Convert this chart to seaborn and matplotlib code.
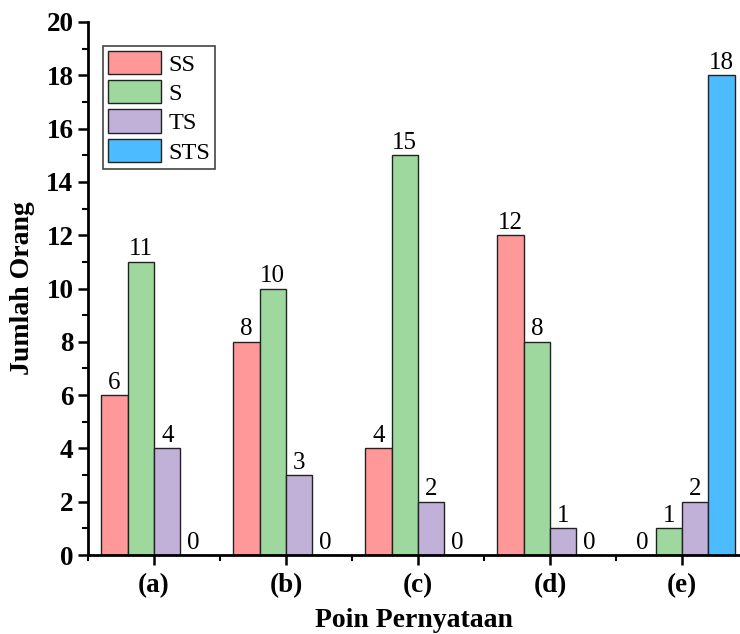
import matplotlib
matplotlib.use("Agg")
import matplotlib.pyplot as plt
import numpy as np
import pandas as pd
import seaborn as sns
from matplotlib.ticker import MultipleLocator, FixedLocator

groups = ["(a)", "(b)", "(c)", "(d)", "(e)"]
series = ["SS", "S", "TS", "STS"]
ss = [6, 8, 4, 12, 0]
s = [11, 10, 15, 8, 1]
ts = [4, 3, 2, 1, 2]
sts = [0, 0, 0, 0, 18]
colors = ["#FF9999", "#9ED89E", "#C1B1D8", "#4DBBFF"]

rows = []
for name, vals in zip(series, [ss, s, ts, sts]):
    for g, v in zip(groups, vals):
        rows.append({"Poin": g, "Kategori": name, "Jumlah": v})
df = pd.DataFrame(rows)

sns.set_style("ticks")
plt.rcParams["font.family"] = ["Liberation Serif", "DejaVu Serif"]
plt.rcParams["text.color"] = "black"
plt.rcParams["axes.labelcolor"] = "black"
plt.rcParams["xtick.color"] = "black"
plt.rcParams["ytick.color"] = "black"
plt.rcParams["axes.edgecolor"] = "black"

fig = plt.figure(figsize=(7.4, 6.34), dpi=100)
ax = fig.add_axes([0.119, 0.1246, 0.881, 0.8407])

sns.barplot(data=df, x="Poin", y="Jumlah", hue="Kategori", hue_order=series,
            palette=colors, width=0.8, gap=0, edgecolor="#222222", linewidth=1,
            saturation=1, ax=ax)

for cont in ax.containers:
    ax.bar_label(cont, fmt="%d", fontsize=18, padding=1, color="black")

ax.set_ylim(0, 20)
ax.set_xlim(-0.5, -0.5 + 652 / 132)
ax.yaxis.set_major_locator(MultipleLocator(2))
ax.yaxis.set_minor_locator(MultipleLocator(1))
ax.xaxis.set_minor_locator(FixedLocator(np.arange(-0.5, 5, 1)))

for side in ["top", "right"]:
    ax.spines[side].set_visible(False)
for side in ["left", "bottom"]:
    ax.spines[side].set_linewidth(2)

ax.tick_params(axis="both", which="major", direction="out", length=7, width=1.8,
               labelsize=19.5, color="black")
ax.tick_params(axis="x", which="major", pad=6)
ax.tick_params(axis="both", which="minor", direction="out", length=4, width=1.5, color="black")
for lab in ax.get_xticklabels() + ax.get_yticklabels():
    lab.set_fontweight("bold")

ax.set_xlabel("Poin Pernyataan", fontsize=20, fontweight="bold", labelpad=7)
ax.set_ylabel("Jumlah Orang", fontsize=20, fontweight="bold", labelpad=8)

leg = ax.legend(loc="upper left", bbox_to_anchor=(0.023, 0.955), fontsize=17.5,
                handlelength=2.2, handleheight=1.1, labelspacing=0.18,
                handletextpad=0.3, borderpad=0.2, borderaxespad=0,
                fancybox=False, framealpha=1, edgecolor="#444444")
leg.get_frame().set_linewidth(1.2)

fig.savefig("out.png", dpi=100)
